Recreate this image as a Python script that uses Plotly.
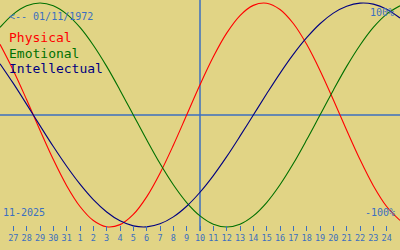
import plotly.graph_objects as go

# Day positions (index 0 = Oct 27 ... 28 = Nov 24); -1 and 29 are off-tick edge points
day_index = list(range(-1, 30))
tick_index = list(range(0, 29))
tick_labels = ["27", "28", "29", "30", "31", "1", "2", "3", "4", "5", "6", "7", "8", "9",
               "10", "11", "12", "13", "14", "15", "16", "17", "18", "19", "20", "21", "22", "23", "24"]
today_index = 14

physical = [0.631, 0.398, 0.136, -0.136, -0.398, -0.631, -0.817, -0.942, -0.998, -0.979,
            -0.888, -0.731, -0.520, -0.270, 0.0, 0.270, 0.520, 0.731, 0.888, 0.979,
            0.998, 0.942, 0.817, 0.631, 0.398, 0.136, -0.136, -0.398, -0.631, -0.817, -0.942]
emotional = [0.782, 0.901, 0.975, 1.0, 0.975, 0.901, 0.782, 0.623, 0.434, 0.222,
             0.0, -0.222, -0.434, -0.623, -0.782, -0.901, -0.975, -1.0, -0.975, -0.901,
             -0.782, -0.623, -0.434, -0.222, 0.0, 0.222, 0.434, 0.623, 0.782, 0.901, 0.975]
intellectual = [0.458, 0.282, 0.095, -0.095, -0.282, -0.458, -0.618, -0.756, -0.866, -0.945,
                -0.990, -0.999, -0.972, -0.910, -0.815, -0.690, -0.541, -0.372, -0.189, 0.0,
                0.189, 0.372, 0.541, 0.690, 0.815, 0.910, 0.972, 0.999, 0.990, 0.945, 0.866]

BG = "#e1d485"
BLUE = "#3b6fc0"
RED = "#ff0000"
GREEN = "#007000"
NAVY = "#000080"
FONT = "DejaVu Sans Mono"

W, H, B = 400, 250, 19
PH = H - B

fig = go.Figure()
for name, vals, col in [("Physical", physical, RED), ("Emotional", emotional, GREEN),
                        ("Intellectual", intellectual, NAVY)]:
    fig.add_trace(go.Scatter(x=day_index, y=vals, mode="lines", name=name,
                             line=dict(color=col, width=1.1, shape="spline"),
                             hoverinfo="skip"))

fig.add_shape(type="line", xref="paper", yref="y", x0=0, x1=1, y0=0, y1=0,
              line=dict(color=BLUE, width=1.5), layer="below")
fig.add_shape(type="line", xref="x", yref="paper", x0=today_index, x1=today_index, y0=0, y1=1,
              line=dict(color=BLUE, width=1.5), layer="below")

def ann(text, px, py, color, size, anchor):
    fig.add_annotation(text=text, xref="paper", yref="paper", x=px / W, y=1 - py / PH,
                       xanchor=anchor, yanchor="middle", showarrow=False,
                       font=dict(family=FONT, size=size, color=color),
                       borderpad=0, borderwidth=0)

ann("&lt;-- 01/11/1972", 9, 16.5, BLUE, 10, "left")
ann("100%", 394, 12.5, BLUE, 10, "right")
ann("-100%", 395, 212.5, BLUE, 10, "right")
ann("11-2025", 3, 212.5, BLUE, 10, "left")
ann("Physical", 9, 38, RED, 13, "left")
ann("Emotional", 9, 53, GREEN, 13, "left")
ann("Intellectual", 9, 68, NAVY, 13, "left")

fig.update_layout(
    width=W, height=H, margin=dict(l=0, r=0, t=0, b=B),
    paper_bgcolor=BG, plot_bgcolor=BG, showlegend=False,
    xaxis=dict(range=[-1, 29], tickvals=tick_index, ticktext=tick_labels,
               ticks="inside", ticklen=5, tickwidth=1, tickcolor=BLUE,
               showgrid=False, zeroline=False, showline=False,
               tickfont=dict(family=FONT, size=8.5, color=BLUE), fixedrange=True),
    yaxis=dict(range=[-1.036, 1.027], showticklabels=False, ticks="",
               showgrid=False, zeroline=False, showline=False, fixedrange=True),
)

fig.write_html("out.html", config={"displayModeBar": False})
